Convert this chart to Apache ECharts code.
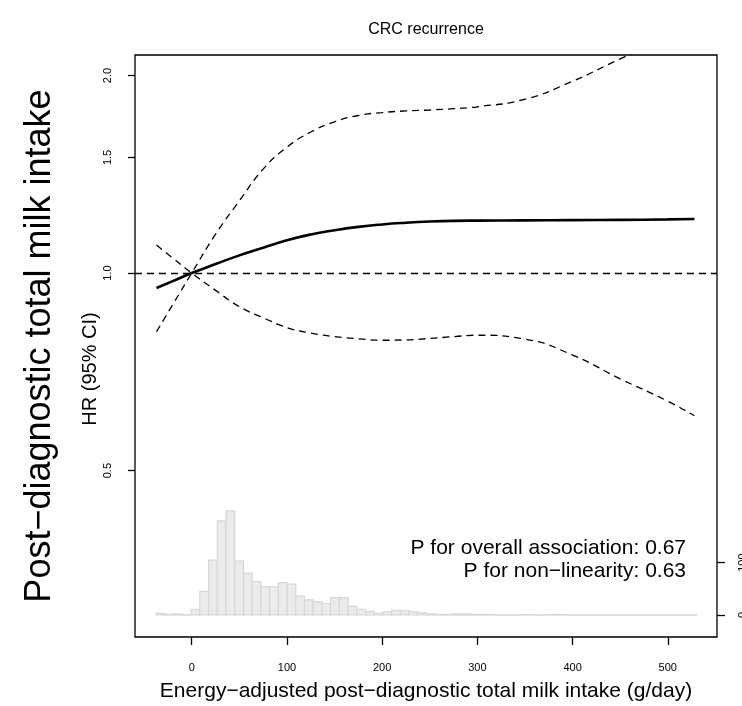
<!DOCTYPE html>
<html><head><meta charset="utf-8">
<script src="https://cdn.jsdelivr.net/npm/echarts@6/dist/echarts.min.js"></script>
<style>html,body{margin:0;padding:0;background:#fff}#c{width:742px;height:706px}</style>
</head><body><div id="c"></div>
<script>
// ---- data ----
const xGrid      = [-37, -20, 0, 25, 50, 75, 100, 125, 150, 175, 200, 225, 250, 275, 300, 350, 400, 450, 500, 528];
const hrEstimate = [0.949, 0.972, 1.000, 1.032, 1.064, 1.093, 1.122, 1.145, 1.162, 1.176, 1.186, 1.193, 1.198, 1.201, 1.202, 1.203, 1.204, 1.205, 1.207, 1.209];
const hrUpper    = [0.814, 0.895, 1.000, 1.146, 1.288, 1.440, 1.555, 1.640, 1.700, 1.738, 1.756, 1.766, 1.772, 1.780, 1.792, 1.840, 1.960, 2.120, 2.280, 2.390];
const hrLower    = [1.103, 1.054, 1.000, 0.941, 0.889, 0.855, 0.826, 0.810, 0.800, 0.794, 0.790, 0.791, 0.795, 0.800, 0.804, 0.793, 0.750, 0.690, 0.638, 0.606];
const refHR = 1;
const xTicks = [0, 100, 200, 300, 400, 500];
const yTicks = [0.5, 1.0, 1.5, 2.0];
const histTicks = [0, 100];
const histStart = -37.3;
const histBinWidth = 9.16;
const histCounts = [3, 1, 2, 0, 11, 45, 105, 180, 199, 103, 80, 64, 54, 54, 62, 59, 36, 29, 25, 22,
                    33, 33, 17, 11, 7, 3, 6, 9, 9, 6, 4, 2, 1, 1, 2, 2, 1, 1, 1, 0,
                    0, 0, 1, 0, 0, 1, 1, 0, 0, 0, 0, 0, 0, 0, 0, 0, 0, 0, 0, 0, 0, 0];
const titleText = 'CRC recurrence';
const outerLabel = 'Post\u2212diagnostic total milk intake';
const xLabel = 'Energy\u2212adjusted post\u2212diagnostic total milk intake (g/day)';
const yLabel = 'HR (95% CI)';
const pLines = ['P for overall association: 0.67', 'P for non\u2212linearity: 0.63'];

// ---- chart ----
const FONT = '"Liberation Sans", Arial, Helvetica, sans-serif';
const chart = echarts.init(document.getElementById('c'), null, {renderer: 'canvas'});
const ln = Math.log;
const toPts = arr => xGrid.map((x, i) => [x, ln(arr[i])]);
const histData = histCounts.map((c, i) => [histStart + i * histBinWidth, histStart + (i + 1) * histBinWidth, c]);

const option = {
  animation: false,
  backgroundColor: '#fff',
  textStyle: {fontFamily: FONT},
  grid: {left: 135, right: 25, top: 55, bottom: 69, show: true, borderColor: '#000', borderWidth: 1.3,
    backgroundColor: 'transparent', containLabel: false, outerBoundsMode: 'none'},
  xAxis: [{
    type: 'value', min: -59.6, max: 551.7,
    axisLine: {show: false, onZero: false},
    splitLine: {show: false},
    axisTick: {show: true, length: 8, customValues: xTicks, lineStyle: {color: '#000', width: 1.3}},
    axisLabel: {customValues: xTicks, fontSize: 11, color: '#000', margin: 25, fontFamily: FONT},
    name: xLabel, nameLocation: 'middle', nameGap: 44,
    nameTextStyle: {fontSize: 21, color: '#000', fontFamily: FONT}
  }],
  yAxis: [{
    type: 'value', min: ln(0.2789), max: ln(2.149),
    axisLine: {show: false, onZero: false},
    splitLine: {show: false},
    axisTick: {show: true, length: 7, customValues: yTicks.map(v => ln(v)), lineStyle: {color: '#000', width: 1.3}},
    axisLabel: {customValues: yTicks.map(v => ln(v)), rotate: 90, fontSize: 11, color: '#000', margin: 22, fontFamily: FONT,
      formatter: v => Math.exp(v).toFixed(1)}
  }, {
    type: 'value', position: 'right', min: -42.1, max: 1070.7,
    axisLine: {show: false, onZero: false},
    splitLine: {show: false},
    axisTick: {show: true, length: 8, customValues: histTicks, lineStyle: {color: '#000', width: 1.3}},
    axisLabel: {customValues: histTicks, rotate: 90, fontSize: 11, color: '#000', margin: 20, fontFamily: FONT}
  }],
  series: [{
    type: 'custom', name: 'hist', xAxisIndex: 0, yAxisIndex: 1,
    data: histData, encode: {x: [0, 1], y: 2}, z: 1,
    renderItem: function (params, api) {
      const x0 = api.value(0), x1 = api.value(1), c = api.value(2);
      const p0 = api.coord([x0, 0]);
      const p1 = api.coord([x1, c]);
      if (c === 0) {
        return {type: 'line', shape: {x1: p0[0], y1: p0[1], x2: p1[0], y2: p0[1]},
          style: {stroke: '#d6d6d6', lineWidth: 1.5}};
      }
      return {type: 'rect', shape: {x: p0[0], y: p1[1], width: p1[0] - p0[0], height: p0[1] - p1[1]},
        style: {fill: '#ebebeb', stroke: '#d6d6d6', lineWidth: 1.2}};
    }
  }, {
    type: 'line', name: 'HR', data: toPts(hrEstimate), smooth: true, symbol: 'none', z: 3,
    lineStyle: {color: '#000', width: 2.6},
    markLine: {silent: true, symbol: 'none', label: {show: false},
      lineStyle: {color: '#000', width: 1.3, type: [7, 5]},
      data: [{yAxis: ln(refHR)}]}
  }, {
    type: 'line', name: 'upper', data: toPts(hrUpper), smooth: true, symbol: 'none', z: 3,
    lineStyle: {color: '#000', width: 1.3, type: [7, 5]}
  }, {
    type: 'line', name: 'lower', data: toPts(hrLower), smooth: true, symbol: 'none', z: 3,
    lineStyle: {color: '#000', width: 1.3, type: [7, 5]}
  }],
  graphic: [
    {type: 'text', x: 426, y: 30, style: {text: titleText, fontSize: 16, fontFamily: FONT, fill: '#000', align: 'center', verticalAlign: 'middle'}},
    {type: 'text', x: 40, y: 346, rotation: Math.PI / 2, style: {text: outerLabel, fontSize: 36, fontFamily: FONT, fill: '#000', align: 'center', verticalAlign: 'middle'}},
    {type: 'text', x: 90, y: 369, rotation: Math.PI / 2, style: {text: yLabel, fontSize: 20, fontFamily: FONT, fill: '#000', align: 'center', verticalAlign: 'middle'}},
    {type: 'text', x: 686, y: 548, style: {text: pLines[0], fontSize: 21, fontFamily: FONT, fill: '#000', align: 'right', verticalAlign: 'middle'}},
    {type: 'text', x: 686, y: 571, style: {text: pLines[1], fontSize: 21, fontFamily: FONT, fill: '#000', align: 'right', verticalAlign: 'middle'}}
  ]
};
chart.setOption(option);
</script>
</body></html>
